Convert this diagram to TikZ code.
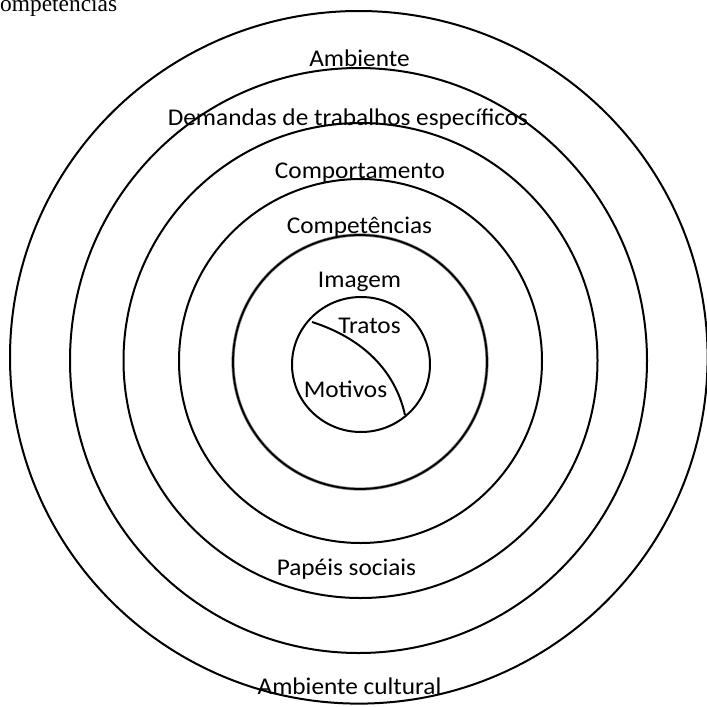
\documentclass[tikz,border=0pt]{standalone}
\usepackage{fontspec}
\setmainfont[FakeStretch=1.053]{Carlito}
\newfontfamily\captionserif{Liberation Serif}
\begin{document}
\begin{tikzpicture}[x=1pt,y=-1pt,
  ring/.style={line width=2pt},
  softring/.style={line width=3.2pt, draw=black!45},
  lbl/.style={font=\fontsize{24}{28}\selectfont, inner sep=0pt, anchor=base}]
\useasboundingbox (0,0) rectangle (707,707);

% caption, partly outside the page
\node[font=\captionserif\fontsize{23.4}{28}\selectfont, inner sep=0pt, anchor=base west]
  (caption) at (-15.6,11) {Competências};

% concentric rings, outermost first
\coordinate (c1) at (358.8,357.3);
\coordinate (c2) at (358.5,360.5);
\coordinate (c3) at (360.5,360.5);
\coordinate (c4) at (360.5,361);
\coordinate (c5) at (360,362);
\coordinate (c6) at (361,364.5);
\draw[ring] (c1) ellipse [x radius=348.8pt, y radius=346.3pt];
\draw[ring] (c2) ellipse [x radius=288.5pt, y radius=292.5pt];
\draw[ring] (c3) ellipse [x radius=237pt, y radius=237.5pt];
\draw[ring] (c4) ellipse [x radius=181.5pt, y radius=182pt];
\draw[softring] (c5) circle [radius=127pt];
\draw[ring, line width=1.8pt] (c5) circle [radius=127pt];
\draw[ring] (c6) ellipse [x radius=69pt, y radius=67.5pt];

% dividing curve in the core
\coordinate (cs) at (312,322);
\coordinate (ce) at (405,415);
\draw[ring] (cs) .. controls (362,338) and (395,370) .. (ce);

% ring labels
\node[lbl] (amb)  at (359.5,66)  {Ambiente};
\node[lbl] (dem)  at (348,125)   {Demandas de trabalhos específicos};
\node[lbl] (comp) at (360,178)   {Comportamento};
\node[lbl] (cpt)  at (359.5,233) {Competências};
\node[lbl] (img)  at (359.5,287) {Imagem};
\node[lbl] (tra)  at (369.5,333) {Tratos};
\node[lbl] (mot)  at (345.5,397) {Motivos};
\node[lbl] (pap)  at (346.5,575) {Papéis sociais};
\node[lbl] (ambc) at (349.5,694) {Ambiente cultural};
\end{tikzpicture}
\end{document}
